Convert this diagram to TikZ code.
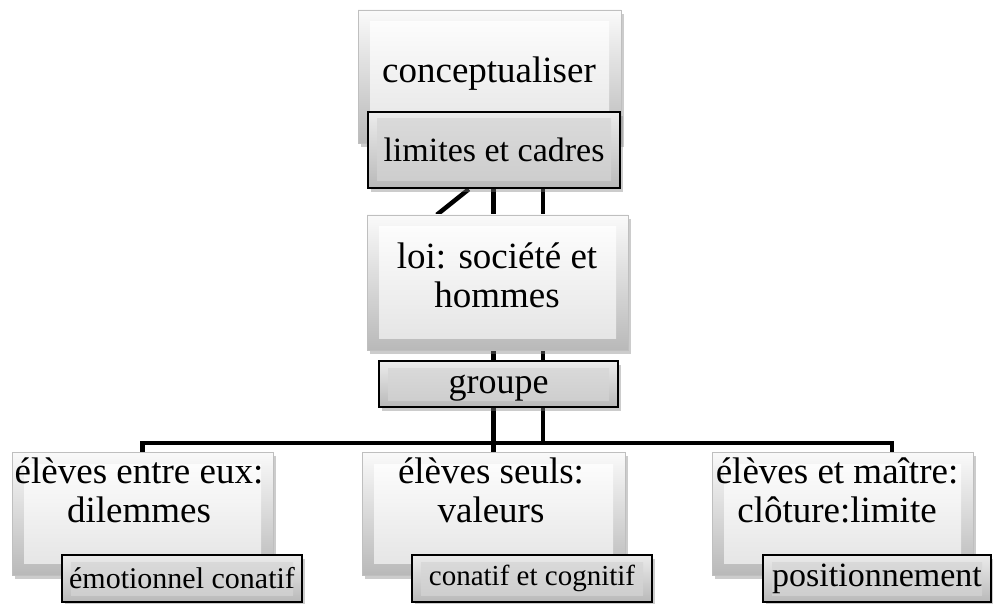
\documentclass[tikz,border=0pt]{standalone}
\usepackage{fontspec}
\setmainfont{Liberation Serif}
\usetikzlibrary{positioning,calc,shadows,backgrounds}
\tikzset{
    % bevelled white box
    bigbox/.style = {rectangle, draw=gray!50, thin, top color=gray!4, bottom color=gray!55,
        drop shadow={shadow xshift=3pt, shadow yshift=-4pt, opacity=.4},
        path picture={\fill[top color=white, bottom color=gray!22]
            ([shift={(12pt,-12pt)}]path picture bounding box.north west) rectangle
            ([shift={(-12pt,12pt)}]path picture bounding box.south east);}},
    % dark bar with black frame
    subbox/.style = {rectangle, draw=black, line width=2.5pt, inner sep=2pt,
        top color=gray!15, bottom color=gray!55,
        drop shadow={shadow xshift=3pt, shadow yshift=-4pt, opacity=.4},
        path picture={\fill[top color=gray!28, bottom color=gray!40]
            ([shift={(9pt,-7pt)}]path picture bounding box.north west) rectangle
            ([shift={(-9pt,7pt)}]path picture bounding box.south east);}},
    bigtxt/.style = {align=center, inner sep=0pt, font=\fontsize{37}{39}\selectfont},
    link/.style = {line width=4.5pt}
}

\begin{document}
\begin{tikzpicture}[x=1pt, y=-1pt]
\useasboundingbox (0,0) rectangle (993,604);

    % top
    \node[bigbox, minimum width=263pt, minimum height=133pt] (concept) at (489.5,76.5) {};
    \node[bigtxt] (conceptTxt) at (489,73.5) {conceptualiser};
    \node[subbox, minimum width=252pt, minimum height=76pt, font=\fontsize{34}{36}\selectfont] (limites) at (494,150) {limites et cadres};

    % middle
    \node[bigbox, minimum width=261pt, minimum height=135pt] (loi) at (497.5,282.5) {};
    \node[bigtxt] (loiTxt) at (497,275) {loi: société et\\hommes};
    \node[subbox, minimum width=239pt, minimum height=46pt, font=\fontsize{36}{38}\selectfont, text depth=0pt] (groupe) at (498.5,384) {groupe};

    % bottom row
    \node[bigbox, minimum width=261pt, minimum height=123pt] (entre) at (142.5,513.5) {};
    \node[bigtxt] (entreTxt) at (139,490) {élèves entre eux:\\dilemmes};
    \node[subbox, minimum width=240pt, minimum height=47pt, font=\fontsize{30}{32}\selectfont] (emotion) at (182,578.5) {émotionnel conatif};

    \node[bigbox, minimum width=263pt, minimum height=123pt] (seuls) at (493.5,513.5) {};
    \node[bigtxt] (seulsTxt) at (491,490) {élèves seuls:\\valeurs};
    \node[subbox, minimum width=240pt, minimum height=47pt, font=\fontsize{29}{31}\selectfont] (conatif) at (532,578.5) {conatif et cognitif};

    \node[bigbox, minimum width=261pt, minimum height=123pt] (maitre) at (842.5,513.5) {};
    \node[bigtxt] (maitreTxt) at (837,490) {élèves et maître:\\clôture:limite};
    \node[subbox, minimum width=228pt, minimum height=47pt, font=\fontsize{34}{36}\selectfont] (position) at (877,578.5) {positionnement};

    % connectors
    \begin{scope}[on background layer]
        \coordinate (tapR) at (543,443);
        \coordinate (barR) at (892,443);
        \draw[link] (limites.south -| seuls.north) -- (seuls.north);
        \draw[link] (limites.south -| tapR) -- (tapR);
        \draw[link] ($(limites.south west)+(102,0)$) -- ($(loi.north west)+(70,0)$);
        \draw[link] (entre.north) |- (barR) -- (barR |- maitre.north);
    \end{scope}
\end{tikzpicture}
\end{document}
